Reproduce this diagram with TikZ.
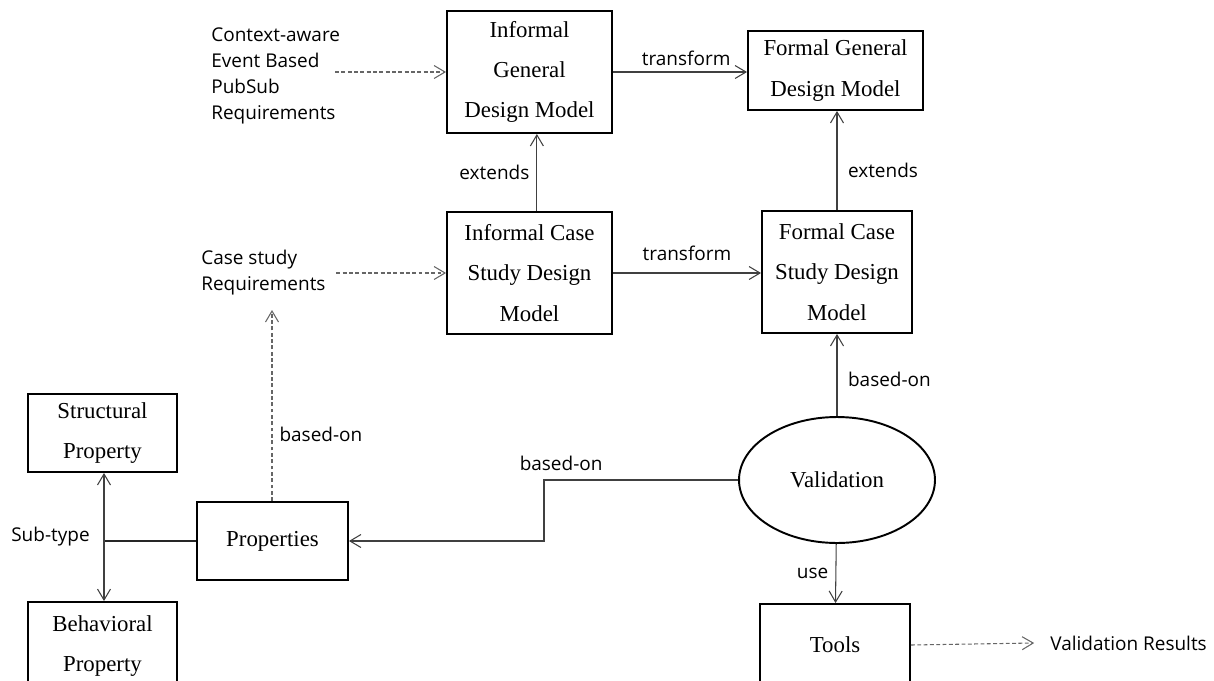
\documentclass[tikz,border=0pt]{standalone}
\usepackage{fontspec}
\setmainfont{Liberation Serif}
\newfontfamily\labelfont{Open Sans}
\usetikzlibrary{positioning, arrows.meta, shapes.geometric}

\begin{document}
\begin{tikzpicture}[x=0.02cm, y=-0.02cm,
box/.style={draw, line width=1.1pt, align=center, inner sep=2pt, font=\fontsize{13}{23}\selectfont},
lbl/.style={align=left, inner sep=0pt, font=\labelfont\fontsize{10.8}{14.8}\selectfont},
arrow/.style={line width=0.6pt, draw=black!75, -{Straight Barb[length=2.2mm, width=2.6mm]}},
dasharrow/.style={arrow, draw=black!60, dash pattern=on 2.2pt off 1.4pt},
link/.style={line width=0.6pt, draw=black!85} ]

\useasboundingbox (0,0) rectangle (1214,680);

% Nodes
\node[box, minimum width=3.3cm, minimum height=2.44cm] (infgen) at (529.5,72) {Informal\\ General\\ Design Model};
\node[box, minimum width=3.5cm, minimum height=1.58cm] (formgen) at (835.5,70.5) {Formal General\\ Design Model};
\node[box, minimum width=3.3cm, minimum height=2.44cm] (infcase) at (529.5,273) {Informal Case\\ Study Design\\ Model};
\node[box, minimum width=3.0cm, minimum height=2.44cm] (formcase) at (837,272) {Formal Case\\ Study Design\\ Model};
\node[box, minimum width=2.98cm, minimum height=1.56cm] (struct) at (102.5,433) {Structural\\ Property};
\node[box, minimum width=3.02cm, minimum height=1.56cm] (props) at (272.5,541) {Properties};
\node[box, minimum width=2.98cm, minimum height=1.76cm] (behav) at (102.5,646) {Behavioral\\ Property};
\node[draw, ellipse, line width=1.1pt, minimum width=3.92cm, minimum height=2.52cm, font=\fontsize{13}{19}\selectfont] (valid) at (837,480) {Validation};
\node[box, minimum width=3.0cm, minimum height=1.64cm] (tools) at (835,645) {Tools};

\node[lbl, anchor=west] (ctxreq) at (211,76) {Context-aware\\ Event Based\\ PubSub\\ Requirements};
\node[lbl, anchor=west] (casereq) at (201,273) {Case study\\ Requirements};
\node[lbl, anchor=west] (results) at (1050,643) {Validation Results};

\coordinate (subtype) at (104,541);
\coordinate (elbow) at (544,480);
\coordinate (reqend) at (272,310);

% Arrows
\draw[dasharrow] ([xshift=-3pt]infgen.west -| ctxreq.east) -- (infgen.west);
\draw[dasharrow] ([xshift=6pt]infcase.west -| casereq.east) -- (infcase.west);
\draw[arrow] (infgen.east) -- (infgen.east -| formgen.west) node[lbl, midway, above=3.5pt, xshift=3.5pt] (t1) {transform};
\draw[arrow] (infcase.east) -- (infcase.east -| formcase.west) node[lbl, midway, above=6.5pt] (t2) {transform};
\draw[arrow] ([xshift=4.2pt]infcase.north) -- ([xshift=4.2pt]infgen.south) node[lbl, pos=0.5, left=4pt] (e1) {extends};
\draw[arrow] (formcase.north) -- (formcase.north |- formgen.south) node[lbl, pos=0.4, right=6pt] (e2) {extends};
\draw[arrow] (valid) -- (formcase) node[lbl, pos=0.45, right=6pt] (b1) {based-on};
\draw[dasharrow] (props.north -| reqend) -- (reqend) node[lbl, pos=0.35, right=4pt] (b2) {based-on};
\draw[arrow] (valid.west) -- (elbow) |- (props.east);
\node[lbl, above right=5pt and -14pt of elbow] (b3) {based-on};
\draw[arrow] (valid) -- (tools) node[lbl, pos=0.5, left=4pt] (u1) {use};
\draw[dasharrow] (tools.east) -- ([xshift=-9pt]results.west);

\draw[link] (props.west) -- (subtype);
\draw[arrow] (subtype) -- (subtype |- struct.south);
\draw[arrow] (subtype) -- (subtype |- behav.north);
\node[lbl, anchor=east] (sub) at (90,537) {Sub-type};

\end{tikzpicture}
\end{document}
